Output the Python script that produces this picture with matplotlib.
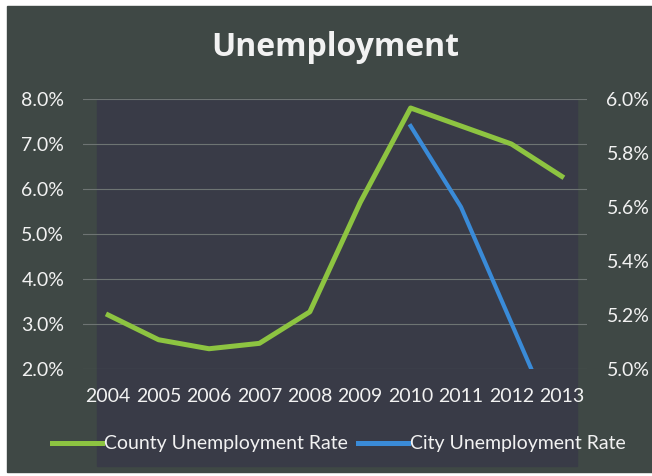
import numpy as np
import matplotlib
matplotlib.use('Agg')
import matplotlib.pyplot as plt
from matplotlib.patches import Rectangle
from matplotlib.lines import Line2D
from matplotlib.ticker import FuncFormatter

plt.rcParams['font.family'] = ['Lato', 'DejaVu Sans']

# unemployment rates in percent
years = ['2004', '2005', '2006', '2007', '2008', '2009', '2010', '2011', '2012', '2013']
county_rate = [3.2, 2.65, 2.45, 2.57, 3.27, 5.7, 7.8, 7.4, 7.0, 6.28]
city_rate = [np.nan, np.nan, np.nan, np.nan, np.nan, np.nan, 5.9, 5.6, 5.17, 4.74]

left_ticks = [2, 3, 4, 5, 6, 7, 8]
right_ticks = [5.0, 5.2, 5.4, 5.6, 5.8, 6.0]

green = '#8dc441'
blue = '#3a8bd8'
text_col = '#f2f2f2'

W, H = 652, 476
fig = plt.figure(figsize=(W / 100, H / 100), dpi=100, facecolor='white')

# chart background and plot-area panel
fig.add_artist(Rectangle((7 / W, 4 / H), 1 - 7 / W, 1 - 10 / H,
                         transform=fig.transFigure, color='#3f4845', zorder=0))
fig.add_artist(Rectangle((97 / W, 1 - 466 / H), (577 - 97) / W, (466 - 99) / H,
                         transform=fig.transFigure, color='#393b47', zorder=0))

ax = fig.add_axes([83 / W, 1 - 369 / H, (587 - 83) / W, (369 - 99) / H])
ax.set_facecolor('none')
x = np.arange(len(years))
ax.plot(x, county_rate, color=green, lw=3.6, solid_joinstyle='round', zorder=3)
ax.set_xlim(-0.5, len(years) - 0.5)
ax.set_ylim(2, 8)
ax.set_yticks(left_ticks)
ax.yaxis.set_major_formatter(FuncFormatter(lambda v, p: f'{v:.1f}%'))
ax.set_xticks(x)
ax.set_xticklabels(years)
ax.grid(axis='y', color='#6e7473', lw=0.8)
ax.set_axisbelow(True)

ax2 = ax.twinx()
ax2.plot(x, city_rate, color=blue, lw=3.0, solid_joinstyle='round', zorder=3)
ax2.set_ylim(5, 6)
ax2.set_yticks(right_ticks)
ax2.yaxis.set_major_formatter(FuncFormatter(lambda v, p: f'{v:.1f}%'))

for a in (ax, ax2):
    for s in a.spines.values():
        s.set_visible(False)
    a.tick_params(length=0, colors=text_col, labelsize=14)
ax.tick_params(axis='y', pad=13.5)
ax.tick_params(axis='x', pad=14)
ax2.tick_params(axis='y', pad=14)

fig.text(335 / W, 1 - 48 / H, 'Unemployment', ha='center', va='center',
         color=text_col, fontsize=23, fontweight='bold', family='Open Sans')

handles = [Line2D([], [], color=green, lw=3.6),
           Line2D([], [], color=blue, lw=3.6)]
fig.legend(handles, ['County Unemployment Rate', 'City Unemployment Rate'],
           loc='center', bbox_to_anchor=(339 / W, 1 - 444 / H), ncol=2,
           frameon=False, fontsize=14, labelcolor=text_col,
           handlelength=2.6, handletextpad=0.1, columnspacing=0.5)

fig.savefig('out.png', dpi=100, facecolor=fig.get_facecolor())
